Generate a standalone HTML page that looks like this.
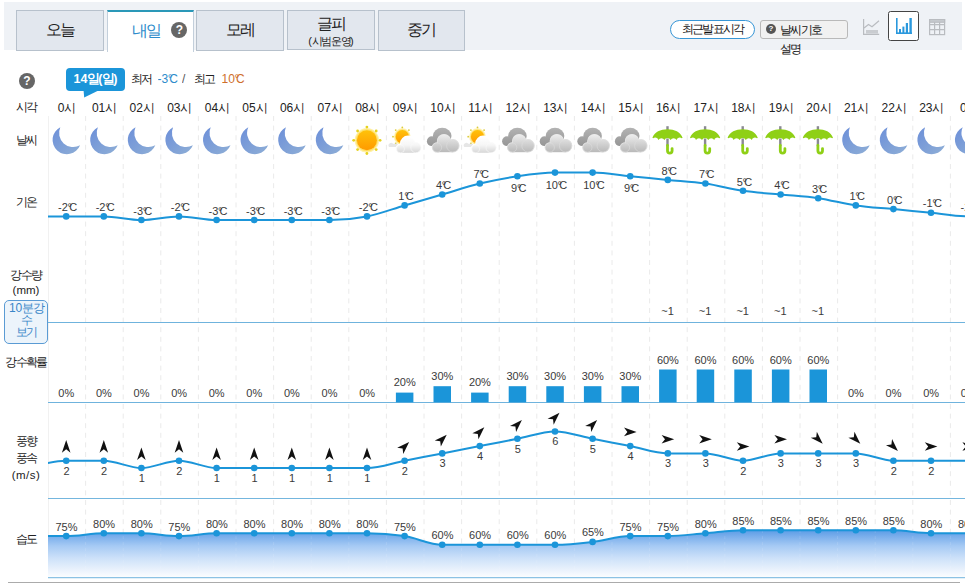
<!DOCTYPE html>
<html lang="ko">
<head>
<meta charset="utf-8">
<title>동네예보 - 내일</title>
<style>
html,body{margin:0;padding:0;background:#fff;}
body{width:965px;height:583px;overflow:hidden;position:relative;font-family:"Liberation Sans",sans-serif;color:#333;}
#wrap{position:absolute;left:0;top:0;width:965px;height:583px;overflow:hidden;}
.hdr{position:absolute;left:4px;top:2px;width:958px;height:47.5px;background:#eff2f6;}
.tab{position:absolute;top:10px;height:39px;width:86px;border:1px solid #b7c1cc;background:#e2e7ee;color:#222;font-size:16px;text-align:center;line-height:38px;white-space:nowrap;overflow:hidden;}
.tab.on{background:#fff;border:1px solid #c3cfdb;border-top:2.5px solid #2a98b8;border-bottom:none;height:40px;color:#2e8ccb;line-height:37px;}
.tab .sm{display:block;font-size:11px;line-height:12px;margin-top:3px;color:#222;}
.tab.two{line-height:17px;padding-top:4px;height:34px !important;}
.q{display:inline-block;width:16px;height:16px;border-radius:8px;background:#666;color:#fff;font-size:12px;font-weight:bold;line-height:16px;text-align:center;vertical-align:middle;}
.pill{position:absolute;left:670px;top:20px;width:83.4px;height:16.6px;border:1.3px solid #3796d6;border-radius:10px;background:#fff;font-size:12px;line-height:17px;text-align:center;color:#111;white-space:nowrap;overflow:hidden;}
.sym{position:absolute;left:760px;top:20px;width:86px;height:16.5px;border:1px solid #b9b9b9;border-radius:3px;background:#f1f1f1;}
.symt{position:absolute;left:780px;top:21px;width:50px;font-size:12px;line-height:19px;color:#111;white-space:normal;word-break:keep-all;}
.q2{position:absolute;left:766px;top:24px;width:10px;height:10px;border-radius:5px;background:#555;color:#fff;font-size:8px;font-weight:bold;line-height:10px;text-align:center;}
.vbox{position:absolute;left:888px;top:11px;width:29px;height:28px;border:1px solid #444;border-radius:2.5px;background:#fff;}
.badge{position:absolute;left:66px;top:68px;width:59px;height:22.5px;border-radius:4px;background:#1b95d9;color:#fff;font-weight:bold;font-size:12.5px;line-height:22px;text-align:center;white-space:nowrap;overflow:hidden;}
.mm{position:absolute;top:71px;font-size:12px;line-height:16px;white-space:nowrap;color:#222;overflow:hidden;}
.mm i{font-style:normal;margin-right:-3.4px;margin-left:-0.4px;}
.mm.t{letter-spacing:0;}
.rl{position:absolute;left:0;width:52px;text-align:center;font-size:12px;line-height:16px;color:#222;white-space:nowrap;overflow:hidden;}
.btn{position:absolute;left:4px;top:299.5px;width:42px;height:42px;border:1px solid #5a9bd4;border-radius:5px;background:#ecf4fb;color:#3a86c8;font-size:12px;line-height:12.4px;text-align:center;overflow:hidden;padding-top:1px;height:41px;}
.n{position:absolute;height:14px;line-height:14px;font-size:11px;text-align:center;color:#3a3a3a;white-space:nowrap;overflow:hidden;}
.n.hr{font-size:12px;color:#222;}
.tc i{font-style:normal;margin-right:-2.8px;margin-left:-0.3px;}
b{display:inline-block;width:0.866em;text-align:center;font-weight:inherit;white-space:nowrap;}
svg{position:absolute;left:0;top:0;}
.bl{position:absolute;left:8px;top:581.7px;width:952px;height:1.3px;background:#ababab;}
</style>
</head>
<body>
<div id="wrap">
<div class="hdr"></div>
<div class="tab" style="left:16px"><b>오</b><b>늘</b></div>
<div class="tab on" style="left:106.5px;width:66px;padding-left:19px"><b>내</b><b>일</b><span class="q" style="margin:-3px 0 0 12px">?</span></div>
<div class="tab" style="left:196px"><b>모</b><b>레</b></div>
<div class="tab two" style="left:287px;height:38px"><b>글</b><b>피</b><span class="sm">(<b>시</b><b>범</b><b>운</b><b>영</b>)</span></div>
<div class="tab" style="left:377.5px;width:85.5px"><b>중</b><b>기</b></div>

<div class="pill"><b>최</b><b>근</b><b>발</b><b>표</b><b>시</b><b>각</b></div>
<div class="sym"></div><span class="q2">?</span>
<div class="symt"><b>날</b><b>씨</b><b>기</b><b>호</b> <b>설</b><b>명</b></div>

<div class="vbox"></div>
<svg width="965" height="60" viewBox="0 0 965 60">
<g fill="none" stroke="#b9bcc0" stroke-width="1.2">
<path d="M863.6,19v15.4h15.6"/><path d="M864,28l4.5,-3.5l3.5,2.2l7,-6"/>
<rect x="866" y="30" width="12" height="3.6" fill="#c9ccd0" stroke="none"/>
</g>
<g fill="#2a98dd"><rect x="896" y="18" width="1.6" height="16"/><rect x="896" y="32.4" width="16" height="1.6"/><rect x="899" y="29" width="2" height="4"/><rect x="902.4" y="26.6" width="2" height="6.4"/><rect x="905.8" y="23" width="2.2" height="10"/><rect x="909.4" y="18" width="2.4" height="15"/></g>
<g fill="none" stroke="#b9bcc0" stroke-width="1.2"><rect x="929.6" y="19.6" width="15" height="15"/><path d="M929.6,24.6h15M929.6,29.6h15M934.6,22v12.6M939.6,22v12.6"/><rect x="929.6" y="19.6" width="15" height="2.6" fill="#c9ccd0"/></g>
</svg>

<span class="q" style="position:absolute;left:19px;top:73px">?</span>
<div class="badge">14<b>일</b>(<b>일</b>)</div>
<svg width="965" height="583" viewBox="0 0 965 583" style="pointer-events:none"><path d="M83.5,89.5L84.2,97.5L100.5,89.5Z" fill="#1b95d9"/></svg>
<span class="mm" style="left:131px;width:24px"><b>최</b><b>저</b></span>
<span class="mm t" style="left:157.5px;width:24px;color:#2e8ccb">-3<i>°</i>C</span>
<span class="mm" style="left:182px;width:8px;color:#555">/</span>
<span class="mm" style="left:193.5px;width:24px"><b>최</b><b>고</b></span>
<span class="mm t" style="left:221.5px;width:26px;color:#cf6f2b">10<i>°</i>C</span>

<div class="rl" style="top:99px"><b>시</b><b>각</b></div>
<div class="rl" style="top:132px"><b>날</b><b>씨</b></div>
<div class="rl" style="top:194px"><b>기</b><b>온</b></div>
<div class="rl" style="top:267px"><b>강</b><b>수</b><b>량</b></div>
<div class="rl" style="top:282px;font-size:11.5px">(mm)</div>
<div class="btn">10<b>분</b><b>강</b><br><b>수</b><br><b>보</b><b>기</b></div>
<div class="rl" style="top:354px"><b>강</b><b>수</b><b>확</b><b>률</b></div>
<div class="rl" style="top:433px"><b>풍</b><b>향</b></div>
<div class="rl" style="top:450px"><b>풍</b><b>속</b></div>
<div class="rl" style="top:466.5px;letter-spacing:0.5px;font-size:11.5px">(m/s)</div>
<div class="rl" style="top:530.5px"><b>습</b><b>도</b></div>

<svg width="965" height="583" viewBox="0 0 965 583">
<defs>
<clipPath id="clipc"><rect x="48" y="95" width="917" height="488"/></clipPath>
<linearGradient id="gmoon" x1="0" y1="0" x2="1" y2="1"><stop offset="0" stop-color="#6c8fd9"/><stop offset="1" stop-color="#8fafd6"/></linearGradient>
<linearGradient id="gsun" x1="0" y1="0" x2="0" y2="1"><stop offset="0" stop-color="#ffc20a"/><stop offset="1" stop-color="#ff9a00"/></linearGradient>
<linearGradient id="ghum" gradientUnits="userSpaceOnUse" x1="0" y1="530" x2="0" y2="577"><stop offset="0" stop-color="#5a9ce6"/><stop offset="0.15" stop-color="#7db0ec"/><stop offset="0.34" stop-color="#a6caf4"/><stop offset="0.6" stop-color="#cde1f9"/><stop offset="0.85" stop-color="#eaf2fc"/><stop offset="1" stop-color="#fbfdff"/></linearGradient>
<linearGradient id="gcl" x1="0" y1="0" x2="0" y2="1"><stop offset="0" stop-color="#e6e6e6"/><stop offset="1" stop-color="#b4b4b4"/></linearGradient>
<linearGradient id="gcd" x1="0" y1="0" x2="0" y2="1"><stop offset="0" stop-color="#a9a9a9"/><stop offset="1" stop-color="#8f8f8f"/></linearGradient>
<linearGradient id="gcw" x1="0" y1="0" x2="0" y2="1"><stop offset="0" stop-color="#ffffff"/><stop offset="1" stop-color="#dcdcdc"/></linearGradient>
<linearGradient id="gcwU" gradientUnits="userSpaceOnUse" x1="0" y1="-3" x2="0" y2="13"><stop offset="0" stop-color="#ffffff"/><stop offset="0.5" stop-color="#f6f6f6"/><stop offset="1" stop-color="#d6d6d6"/></linearGradient>
<linearGradient id="gclU" gradientUnits="userSpaceOnUse" x1="0" y1="-5" x2="0" y2="12.5"><stop offset="0" stop-color="#ececec"/><stop offset="1" stop-color="#b8b8b8"/></linearGradient>
<linearGradient id="gcdU" gradientUnits="userSpaceOnUse" x1="0" y1="-14" x2="0" y2="7"><stop offset="0" stop-color="#b6b6b6"/><stop offset="1" stop-color="#949494"/></linearGradient>
<linearGradient id="gbar" x1="0" y1="0" x2="0" y2="1"><stop offset="0" stop-color="#1f9be0"/><stop offset="1" stop-color="#4db4ea"/></linearGradient>
<g id="moon"><path d="M-6.8,-12.8A14.3,14.3 0 1 0 13,5.3A14.13,14.13 0 0 1 -6.8,-12.8Z" fill="url(#gmoon)"/></g>
<g id="sun"><circle r="12.2" fill="#fff0a8"/><circle r="11" fill="#ffe066"/><circle r="10" fill="url(#gsun)"/>
<g fill="#e6d21e"><circle cx="0" cy="-13.2" r="1.4"/><circle cx="9.3" cy="-9.3" r="1.4"/><circle cx="13.2" cy="0" r="1.4"/><circle cx="9.3" cy="9.3" r="1.4"/><circle cx="0" cy="13.2" r="1.4"/><circle cx="-9.3" cy="9.3" r="1.4"/><circle cx="-13.2" cy="0" r="1.4"/><circle cx="-9.3" cy="-9.3" r="1.4"/></g></g>
<g id="psun">
<g transform="translate(-3.2,-3.3)"><circle r="8.4" fill="#fff2b0"/><circle r="7.4" fill="#ffe270"/><circle r="6.6" fill="url(#gsun)"/>
<g fill="#dccb3a"><circle cx="0" cy="-9.3" r="0.9"/><circle cx="6.6" cy="-6.6" r="0.9"/><circle cx="-6.6" cy="-6.6" r="0.9"/><circle cx="-9.3" cy="0" r="0.9"/><circle cx="-6.6" cy="6.6" r="0.9"/></g></g>
<path d="M-16.3,7h8.5v-3.3h-4.6a2.1,2.1 0 0 0 -3.9,3.3z" fill="#e6e6e6"/>
<g fill="#fff" stroke="#fff" stroke-width="2"><circle cx="2.5" cy="3.6" r="7"/><circle cx="10.4" cy="7.6" r="5.1"/><circle cx="-5" cy="8.8" r="4"/><rect x="-5" y="7" width="15.4" height="5.8"/></g>
<g fill="url(#gcwU)"><circle cx="2.5" cy="3.6" r="7"/><rect x="-5" y="7" width="15.4" height="5.8"/><circle cx="10.4" cy="7.6" r="5.1" stroke="#fafafa" stroke-width="0.6"/><circle cx="-5" cy="8.8" r="4" stroke="#fafafa" stroke-width="0.6"/></g>
</g>
<g id="cloud">
<g fill="url(#gcdU)"><ellipse cx="-0.6" cy="-4.1" rx="9.3" ry="8.1"/><circle cx="-11" cy="1.2" r="4.9"/><rect x="-11" y="-2" width="16" height="8.1"/></g>
<g fill="#e9e9e9" stroke="#e9e9e9" stroke-width="1.2"><circle cx="1.2" cy="1.2" r="6.6"/><circle cx="10" cy="5.8" r="6.2"/><circle cx="-5.8" cy="7.5" r="4.6"/></g>
<g fill="url(#gclU)"><circle cx="1.2" cy="1.2" r="6.6"/><rect x="-5.8" y="6" width="15.8" height="6.2"/><circle cx="10" cy="5.8" r="6.2" stroke="#dedede" stroke-width="0.6"/><circle cx="-5.8" cy="7.5" r="4.6" stroke="#dedede" stroke-width="0.6"/></g>
</g>
<g id="umb">
<rect x="-1.2" y="-13.8" width="2.4" height="4" fill="#8a8a92"/>
<rect x="-1.2" y="-1.5" width="2.4" height="7.5" fill="#8a8a92"/>
<path d="M0,5.5v5.3a2.3,2.3 0 0 0 4.6,0v-2.2" fill="none" stroke="#8fd016" stroke-width="2.8" stroke-linecap="round"/>
<path d="M-15.1,-2.2C-13,-8 -7,-10.7 0,-10.7S13,-8 15.1,-2.2l-0.8,0.5a3.2,3.2 0 0 0 -5.2,1.7a3.4,3.4 0 0 0 -6,0a3.4,3.4 0 0 0 -6.2,0a3.4,3.4 0 0 0 -6,0a3.2,3.2 0 0 0 -5.2,-1.7z" fill="#8fd016"/>
</g>
<g id="arr"><path d="M0,-6.4L4.3,6.2L0,2.8L-4.3,6.2Z" fill="#111"/></g>
</defs>
<g stroke="#eaeaea" stroke-width="1" stroke-dasharray="5,4.6" fill="none">
<line x1="85.6" y1="116" x2="85.6" y2="578"/>
<line x1="123.2" y1="116" x2="123.2" y2="578"/>
<line x1="160.8" y1="116" x2="160.8" y2="578"/>
<line x1="198.4" y1="116" x2="198.4" y2="578"/>
<line x1="236.0" y1="116" x2="236.0" y2="578"/>
<line x1="273.6" y1="116" x2="273.6" y2="578"/>
<line x1="311.2" y1="116" x2="311.2" y2="578"/>
<line x1="348.8" y1="116" x2="348.8" y2="578"/>
<line x1="386.4" y1="116" x2="386.4" y2="578"/>
<line x1="424.0" y1="116" x2="424.0" y2="578"/>
<line x1="461.6" y1="116" x2="461.6" y2="578"/>
<line x1="499.2" y1="116" x2="499.2" y2="578"/>
<line x1="536.8" y1="116" x2="536.8" y2="578"/>
<line x1="574.4" y1="116" x2="574.4" y2="578"/>
<line x1="612.0" y1="116" x2="612.0" y2="578"/>
<line x1="649.6" y1="116" x2="649.6" y2="578"/>
<line x1="687.2" y1="116" x2="687.2" y2="578"/>
<line x1="724.8" y1="116" x2="724.8" y2="578"/>
<line x1="762.4" y1="116" x2="762.4" y2="578"/>
<line x1="800.0" y1="116" x2="800.0" y2="578"/>
<line x1="837.6" y1="116" x2="837.6" y2="578"/>
<line x1="875.2" y1="116" x2="875.2" y2="578"/>
<line x1="912.8" y1="116" x2="912.8" y2="578"/>
<line x1="950.4" y1="116" x2="950.4" y2="578"/>
</g>
<line x1="48.5" y1="116" x2="48.5" y2="578" stroke="#f1f1f1" stroke-width="1"/>
<line x1="48" y1="322.5" x2="965" y2="322.5" stroke="#6fb3dd" stroke-width="1.2"/>
<line x1="48" y1="402.5" x2="965" y2="402.5" stroke="#6fb3dd" stroke-width="1.2"/>
<line x1="48" y1="498.5" x2="965" y2="498.5" stroke="#74b6de" stroke-width="1.2"/>
<line x1="48" y1="577.6" x2="965" y2="577.6" stroke="#8cc2e4" stroke-width="1.2"/>
<use href="#moon" x="67.1" y="140"/>
<use href="#moon" x="104.7" y="140"/>
<use href="#moon" x="142.3" y="140"/>
<use href="#moon" x="179.9" y="140"/>
<use href="#moon" x="217.5" y="140"/>
<use href="#moon" x="255.1" y="140"/>
<use href="#moon" x="292.7" y="140"/>
<use href="#moon" x="330.3" y="140"/>
<use href="#sun" x="366.9" y="140.3"/>
<use href="#psun" x="405.5" y="140"/>
<use href="#cloud" x="442.8" y="140"/>
<use href="#psun" x="480.7" y="140"/>
<use href="#cloud" x="518.0" y="140"/>
<use href="#cloud" x="555.6" y="140"/>
<use href="#cloud" x="593.2" y="140"/>
<use href="#cloud" x="630.8" y="140"/>
<use href="#umb" x="667.5" y="140"/>
<use href="#umb" x="705.1" y="140"/>
<use href="#umb" x="742.7" y="140"/>
<use href="#umb" x="780.3" y="140"/>
<use href="#umb" x="817.9" y="140"/>
<use href="#moon" x="856.7" y="140"/>
<use href="#moon" x="894.3" y="140"/>
<use href="#moon" x="931.9" y="140"/>
<use href="#moon" x="969.5" y="140"/>
<g clip-path="url(#clipc)">
<path d="M28.60,536.10C41.13,536.10 53.67,536.10 66.20,536.10C78.73,536.10 91.27,533.20 103.80,533.20C116.33,533.20 128.87,533.20 141.40,533.20C153.93,533.20 166.47,536.10 179.00,536.10C191.53,536.10 204.07,533.20 216.60,533.20C229.13,533.20 241.67,533.20 254.20,533.20C266.73,533.20 279.27,533.20 291.80,533.20C304.33,533.20 316.87,533.20 329.40,533.20C341.93,533.20 354.47,533.20 367.00,533.20C379.53,533.20 392.07,534.17 404.60,536.10C417.13,538.03 429.67,544.80 442.20,544.80C454.73,544.80 467.27,544.80 479.80,544.80C492.33,544.80 504.87,544.80 517.40,544.80C529.93,544.80 542.47,544.80 555.00,544.80C567.53,544.80 580.07,543.35 592.60,541.90C605.13,540.45 617.67,536.10 630.20,536.10C642.73,536.10 655.27,536.10 667.80,536.10C680.33,536.10 692.87,534.17 705.40,533.20C717.93,532.23 730.47,530.30 743.00,530.30C755.53,530.30 768.07,530.30 780.60,530.30C793.13,530.30 805.67,530.30 818.20,530.30C830.73,530.30 843.27,530.30 855.80,530.30C868.33,530.30 880.87,530.30 893.40,530.30C905.93,530.30 918.47,533.20 931.00,533.20C943.53,533.20 956.07,533.20 968.60,533.20C981.13,533.20 993.67,533.20 1006.20,533.20L1006.2,577L28.6,577Z" fill="url(#ghum)"/>
<g stroke="#ffffff" stroke-opacity="0.12" stroke-width="1" stroke-dasharray="3,3">
<line x1="85.6" y1="530" x2="85.6" y2="577"/>
<line x1="123.2" y1="530" x2="123.2" y2="577"/>
<line x1="160.8" y1="530" x2="160.8" y2="577"/>
<line x1="198.4" y1="530" x2="198.4" y2="577"/>
<line x1="236.0" y1="530" x2="236.0" y2="577"/>
<line x1="273.6" y1="530" x2="273.6" y2="577"/>
<line x1="311.2" y1="530" x2="311.2" y2="577"/>
<line x1="348.8" y1="530" x2="348.8" y2="577"/>
<line x1="386.4" y1="530" x2="386.4" y2="577"/>
<line x1="424.0" y1="530" x2="424.0" y2="577"/>
<line x1="461.6" y1="530" x2="461.6" y2="577"/>
<line x1="499.2" y1="530" x2="499.2" y2="577"/>
<line x1="536.8" y1="530" x2="536.8" y2="577"/>
<line x1="574.4" y1="530" x2="574.4" y2="577"/>
<line x1="612.0" y1="530" x2="612.0" y2="577"/>
<line x1="649.6" y1="530" x2="649.6" y2="577"/>
<line x1="687.2" y1="530" x2="687.2" y2="577"/>
<line x1="724.8" y1="530" x2="724.8" y2="577"/>
<line x1="762.4" y1="530" x2="762.4" y2="577"/>
<line x1="800.0" y1="530" x2="800.0" y2="577"/>
<line x1="837.6" y1="530" x2="837.6" y2="577"/>
<line x1="875.2" y1="530" x2="875.2" y2="577"/>
<line x1="912.8" y1="530" x2="912.8" y2="577"/>
<line x1="950.4" y1="530" x2="950.4" y2="577"/>
</g>
<path d="M28.60,536.10C41.13,536.10 53.67,536.10 66.20,536.10C78.73,536.10 91.27,533.20 103.80,533.20C116.33,533.20 128.87,533.20 141.40,533.20C153.93,533.20 166.47,536.10 179.00,536.10C191.53,536.10 204.07,533.20 216.60,533.20C229.13,533.20 241.67,533.20 254.20,533.20C266.73,533.20 279.27,533.20 291.80,533.20C304.33,533.20 316.87,533.20 329.40,533.20C341.93,533.20 354.47,533.20 367.00,533.20C379.53,533.20 392.07,534.17 404.60,536.10C417.13,538.03 429.67,544.80 442.20,544.80C454.73,544.80 467.27,544.80 479.80,544.80C492.33,544.80 504.87,544.80 517.40,544.80C529.93,544.80 542.47,544.80 555.00,544.80C567.53,544.80 580.07,543.35 592.60,541.90C605.13,540.45 617.67,536.10 630.20,536.10C642.73,536.10 655.27,536.10 667.80,536.10C680.33,536.10 692.87,534.17 705.40,533.20C717.93,532.23 730.47,530.30 743.00,530.30C755.53,530.30 768.07,530.30 780.60,530.30C793.13,530.30 805.67,530.30 818.20,530.30C830.73,530.30 843.27,530.30 855.80,530.30C868.33,530.30 880.87,530.30 893.40,530.30C905.93,530.30 918.47,533.20 931.00,533.20C943.53,533.20 956.07,533.20 968.60,533.20C981.13,533.20 993.67,533.20 1006.20,533.20" fill="none" stroke="#1b95d9" stroke-width="2"/>
<circle cx="66.2" cy="536.1" r="3.3" fill="#1b95d9"/>
<circle cx="103.8" cy="533.2" r="3.3" fill="#1b95d9"/>
<circle cx="141.4" cy="533.2" r="3.3" fill="#1b95d9"/>
<circle cx="179.0" cy="536.1" r="3.3" fill="#1b95d9"/>
<circle cx="216.6" cy="533.2" r="3.3" fill="#1b95d9"/>
<circle cx="254.2" cy="533.2" r="3.3" fill="#1b95d9"/>
<circle cx="291.8" cy="533.2" r="3.3" fill="#1b95d9"/>
<circle cx="329.4" cy="533.2" r="3.3" fill="#1b95d9"/>
<circle cx="367.0" cy="533.2" r="3.3" fill="#1b95d9"/>
<circle cx="404.6" cy="536.1" r="3.3" fill="#1b95d9"/>
<circle cx="442.2" cy="544.8" r="3.3" fill="#1b95d9"/>
<circle cx="479.8" cy="544.8" r="3.3" fill="#1b95d9"/>
<circle cx="517.4" cy="544.8" r="3.3" fill="#1b95d9"/>
<circle cx="555.0" cy="544.8" r="3.3" fill="#1b95d9"/>
<circle cx="592.6" cy="541.9" r="3.3" fill="#1b95d9"/>
<circle cx="630.2" cy="536.1" r="3.3" fill="#1b95d9"/>
<circle cx="667.8" cy="536.1" r="3.3" fill="#1b95d9"/>
<circle cx="705.4" cy="533.2" r="3.3" fill="#1b95d9"/>
<circle cx="743.0" cy="530.3" r="3.3" fill="#1b95d9"/>
<circle cx="780.6" cy="530.3" r="3.3" fill="#1b95d9"/>
<circle cx="818.2" cy="530.3" r="3.3" fill="#1b95d9"/>
<circle cx="855.8" cy="530.3" r="3.3" fill="#1b95d9"/>
<circle cx="893.4" cy="530.3" r="3.3" fill="#1b95d9"/>
<circle cx="931.0" cy="533.2" r="3.3" fill="#1b95d9"/>
<circle cx="968.6" cy="533.2" r="3.3" fill="#1b95d9"/>
<path d="M28.60,216.40C41.13,216.40 53.67,216.40 66.20,216.40C78.73,216.40 91.27,216.40 103.80,216.40C116.33,216.40 128.87,220.05 141.40,220.05C153.93,220.05 166.47,216.40 179.00,216.40C191.53,216.40 204.07,220.05 216.60,220.05C229.13,220.05 241.67,220.05 254.20,220.05C266.73,220.05 279.27,220.05 291.80,220.05C304.33,220.05 316.87,220.05 329.40,220.05C341.93,220.05 354.47,218.83 367.00,216.40C379.53,213.97 392.07,209.10 404.60,205.45C417.13,201.80 429.67,198.15 442.20,194.50C454.73,190.85 467.27,186.59 479.80,183.55C492.33,180.51 504.87,178.07 517.40,176.25C529.93,174.43 542.47,172.60 555.00,172.60C567.53,172.60 580.07,172.60 592.60,172.60C605.13,172.60 617.67,175.03 630.20,176.25C642.73,177.47 655.27,178.68 667.80,179.90C680.33,181.12 692.87,181.72 705.40,183.55C717.93,185.37 730.47,189.02 743.00,190.85C755.53,192.68 768.07,193.28 780.60,194.50C793.13,195.72 805.67,196.33 818.20,198.15C830.73,199.97 843.27,203.62 855.80,205.45C868.33,207.27 880.87,207.88 893.40,209.10C905.93,210.32 918.47,211.53 931.00,212.75C943.53,213.97 956.07,216.40 968.60,216.40C981.13,216.40 993.67,216.40 1006.20,216.40" fill="none" stroke="#1b95d9" stroke-width="2"/>
<circle cx="66.2" cy="216.4" r="3.3" fill="#1b95d9"/>
<circle cx="103.8" cy="216.4" r="3.3" fill="#1b95d9"/>
<circle cx="141.4" cy="220.0" r="3.3" fill="#1b95d9"/>
<circle cx="179.0" cy="216.4" r="3.3" fill="#1b95d9"/>
<circle cx="216.6" cy="220.0" r="3.3" fill="#1b95d9"/>
<circle cx="254.2" cy="220.0" r="3.3" fill="#1b95d9"/>
<circle cx="291.8" cy="220.0" r="3.3" fill="#1b95d9"/>
<circle cx="329.4" cy="220.0" r="3.3" fill="#1b95d9"/>
<circle cx="367.0" cy="216.4" r="3.3" fill="#1b95d9"/>
<circle cx="404.6" cy="205.4" r="3.3" fill="#1b95d9"/>
<circle cx="442.2" cy="194.5" r="3.3" fill="#1b95d9"/>
<circle cx="479.8" cy="183.5" r="3.3" fill="#1b95d9"/>
<circle cx="517.4" cy="176.2" r="3.3" fill="#1b95d9"/>
<circle cx="555.0" cy="172.6" r="3.3" fill="#1b95d9"/>
<circle cx="592.6" cy="172.6" r="3.3" fill="#1b95d9"/>
<circle cx="630.2" cy="176.2" r="3.3" fill="#1b95d9"/>
<circle cx="667.8" cy="179.9" r="3.3" fill="#1b95d9"/>
<circle cx="705.4" cy="183.5" r="3.3" fill="#1b95d9"/>
<circle cx="743.0" cy="190.8" r="3.3" fill="#1b95d9"/>
<circle cx="780.6" cy="194.5" r="3.3" fill="#1b95d9"/>
<circle cx="818.2" cy="198.2" r="3.3" fill="#1b95d9"/>
<circle cx="855.8" cy="205.4" r="3.3" fill="#1b95d9"/>
<circle cx="893.4" cy="209.1" r="3.3" fill="#1b95d9"/>
<circle cx="931.0" cy="212.8" r="3.3" fill="#1b95d9"/>
<circle cx="968.6" cy="216.4" r="3.3" fill="#1b95d9"/>
<path d="M28.60,468.00C41.13,464.35 53.67,460.70 66.20,460.70C78.73,460.70 91.27,460.70 103.80,460.70C116.33,460.70 128.87,468.00 141.40,468.00C153.93,468.00 166.47,460.70 179.00,460.70C191.53,460.70 204.07,468.00 216.60,468.00C229.13,468.00 241.67,468.00 254.20,468.00C266.73,468.00 279.27,468.00 291.80,468.00C304.33,468.00 316.87,468.00 329.40,468.00C341.93,468.00 354.47,468.00 367.00,468.00C379.53,468.00 392.07,463.13 404.60,460.70C417.13,458.27 429.67,455.83 442.20,453.40C454.73,450.97 467.27,448.53 479.80,446.10C492.33,443.67 504.87,441.23 517.40,438.80C529.93,436.37 542.47,431.50 555.00,431.50C567.53,431.50 580.07,436.37 592.60,438.80C605.13,441.23 617.67,443.67 630.20,446.10C642.73,448.53 655.27,453.40 667.80,453.40C680.33,453.40 692.87,453.40 705.40,453.40C717.93,453.40 730.47,460.70 743.00,460.70C755.53,460.70 768.07,453.40 780.60,453.40C793.13,453.40 805.67,453.40 818.20,453.40C830.73,453.40 843.27,453.40 855.80,453.40C868.33,453.40 880.87,460.70 893.40,460.70C905.93,460.70 918.47,460.70 931.00,460.70C943.53,460.70 956.07,460.70 968.60,460.70C981.13,460.70 993.67,460.70 1006.20,460.70" fill="none" stroke="#1b95d9" stroke-width="2"/>
<circle cx="66.2" cy="460.7" r="3.3" fill="#1b95d9"/>
<use href="#arr" transform="translate(66.2,446.5) rotate(0)"/>
<circle cx="103.8" cy="460.7" r="3.3" fill="#1b95d9"/>
<use href="#arr" transform="translate(103.8,446.5) rotate(0)"/>
<circle cx="141.4" cy="468.0" r="3.3" fill="#1b95d9"/>
<use href="#arr" transform="translate(141.4,453.8) rotate(0)"/>
<circle cx="179.0" cy="460.7" r="3.3" fill="#1b95d9"/>
<use href="#arr" transform="translate(179.0,446.5) rotate(0)"/>
<circle cx="216.6" cy="468.0" r="3.3" fill="#1b95d9"/>
<use href="#arr" transform="translate(216.6,453.8) rotate(0)"/>
<circle cx="254.2" cy="468.0" r="3.3" fill="#1b95d9"/>
<use href="#arr" transform="translate(254.2,453.8) rotate(0)"/>
<circle cx="291.8" cy="468.0" r="3.3" fill="#1b95d9"/>
<use href="#arr" transform="translate(291.8,453.8) rotate(0)"/>
<circle cx="329.4" cy="468.0" r="3.3" fill="#1b95d9"/>
<use href="#arr" transform="translate(329.4,453.8) rotate(0)"/>
<circle cx="367.0" cy="468.0" r="3.3" fill="#1b95d9"/>
<use href="#arr" transform="translate(367.0,453.8) rotate(0)"/>
<circle cx="404.6" cy="460.7" r="3.3" fill="#1b95d9"/>
<use href="#arr" transform="translate(404.6,446.5) rotate(45)"/>
<circle cx="442.2" cy="453.4" r="3.3" fill="#1b95d9"/>
<use href="#arr" transform="translate(442.2,439.2) rotate(45)"/>
<circle cx="479.8" cy="446.1" r="3.3" fill="#1b95d9"/>
<use href="#arr" transform="translate(479.8,431.9) rotate(45)"/>
<circle cx="517.4" cy="438.8" r="3.3" fill="#1b95d9"/>
<use href="#arr" transform="translate(517.4,424.6) rotate(45)"/>
<circle cx="555.0" cy="431.5" r="3.3" fill="#1b95d9"/>
<use href="#arr" transform="translate(555.0,417.3) rotate(45)"/>
<circle cx="592.6" cy="438.8" r="3.3" fill="#1b95d9"/>
<use href="#arr" transform="translate(592.6,424.6) rotate(45)"/>
<circle cx="630.2" cy="446.1" r="3.3" fill="#1b95d9"/>
<use href="#arr" transform="translate(630.2,431.9) rotate(90)"/>
<circle cx="667.8" cy="453.4" r="3.3" fill="#1b95d9"/>
<use href="#arr" transform="translate(667.8,439.2) rotate(90)"/>
<circle cx="705.4" cy="453.4" r="3.3" fill="#1b95d9"/>
<use href="#arr" transform="translate(705.4,439.2) rotate(90)"/>
<circle cx="743.0" cy="460.7" r="3.3" fill="#1b95d9"/>
<use href="#arr" transform="translate(743.0,446.5) rotate(90)"/>
<circle cx="780.6" cy="453.4" r="3.3" fill="#1b95d9"/>
<use href="#arr" transform="translate(780.6,439.2) rotate(90)"/>
<circle cx="818.2" cy="453.4" r="3.3" fill="#1b95d9"/>
<use href="#arr" transform="translate(818.2,439.2) rotate(135)"/>
<circle cx="855.8" cy="453.4" r="3.3" fill="#1b95d9"/>
<use href="#arr" transform="translate(855.8,439.2) rotate(135)"/>
<circle cx="893.4" cy="460.7" r="3.3" fill="#1b95d9"/>
<use href="#arr" transform="translate(893.4,446.5) rotate(135)"/>
<circle cx="931.0" cy="460.7" r="3.3" fill="#1b95d9"/>
<use href="#arr" transform="translate(931.0,446.5) rotate(90)"/>
<circle cx="968.6" cy="460.7" r="3.3" fill="#1b95d9"/>
<use href="#arr" transform="translate(968.6,446.5) rotate(90)"/>
<rect x="395.9" y="392.6" width="17.5" height="9.7" fill="#1b95d9"/>
<rect x="433.5" y="386.2" width="17.5" height="16.1" fill="#1b95d9"/>
<rect x="471.1" y="392.6" width="17.5" height="9.7" fill="#1b95d9"/>
<rect x="508.7" y="386.2" width="17.5" height="16.1" fill="#1b95d9"/>
<rect x="546.3" y="386.2" width="17.5" height="16.1" fill="#1b95d9"/>
<rect x="583.9" y="386.2" width="17.5" height="16.1" fill="#1b95d9"/>
<rect x="621.5" y="386.2" width="17.5" height="16.1" fill="#1b95d9"/>
<rect x="659.1" y="369.5" width="17.5" height="32.8" fill="#1b95d9"/>
<rect x="696.7" y="369.5" width="17.5" height="32.8" fill="#1b95d9"/>
<rect x="734.3" y="369.5" width="17.5" height="32.8" fill="#1b95d9"/>
<rect x="771.9" y="369.5" width="17.5" height="32.8" fill="#1b95d9"/>
<rect x="809.5" y="369.5" width="17.5" height="32.8" fill="#1b95d9"/>
</g>
</svg>
<span class="n hr" style="left:46.2px;top:100.6px;width:40px">0<b>시</b></span>
<span class="n hr" style="left:83.8px;top:100.6px;width:40px">01<b>시</b></span>
<span class="n hr" style="left:121.4px;top:100.6px;width:40px">02<b>시</b></span>
<span class="n hr" style="left:159.0px;top:100.6px;width:40px">03<b>시</b></span>
<span class="n hr" style="left:196.6px;top:100.6px;width:40px">04<b>시</b></span>
<span class="n hr" style="left:234.2px;top:100.6px;width:40px">05<b>시</b></span>
<span class="n hr" style="left:271.8px;top:100.6px;width:40px">06<b>시</b></span>
<span class="n hr" style="left:309.4px;top:100.6px;width:40px">07<b>시</b></span>
<span class="n hr" style="left:347.0px;top:100.6px;width:40px">08<b>시</b></span>
<span class="n hr" style="left:384.6px;top:100.6px;width:40px">09<b>시</b></span>
<span class="n hr" style="left:422.2px;top:100.6px;width:40px">10<b>시</b></span>
<span class="n hr" style="left:459.8px;top:100.6px;width:40px">11<b>시</b></span>
<span class="n hr" style="left:497.4px;top:100.6px;width:40px">12<b>시</b></span>
<span class="n hr" style="left:535.0px;top:100.6px;width:40px">13<b>시</b></span>
<span class="n hr" style="left:572.6px;top:100.6px;width:40px">14<b>시</b></span>
<span class="n hr" style="left:610.2px;top:100.6px;width:40px">15<b>시</b></span>
<span class="n hr" style="left:647.8px;top:100.6px;width:40px">16<b>시</b></span>
<span class="n hr" style="left:685.4px;top:100.6px;width:40px">17<b>시</b></span>
<span class="n hr" style="left:723.0px;top:100.6px;width:40px">18<b>시</b></span>
<span class="n hr" style="left:760.6px;top:100.6px;width:40px">19<b>시</b></span>
<span class="n hr" style="left:798.2px;top:100.6px;width:40px">20<b>시</b></span>
<span class="n hr" style="left:835.8px;top:100.6px;width:40px">21<b>시</b></span>
<span class="n hr" style="left:873.4px;top:100.6px;width:40px">22<b>시</b></span>
<span class="n hr" style="left:911.0px;top:100.6px;width:40px">23<b>시</b></span>
<span class="n hr" style="left:948.6px;top:100.6px;width:40px">0<b>시</b></span>
<span class="n tc" style="left:47.6px;top:200.1px;width:40px">-2<i>°</i>C</span>
<span class="n tc" style="left:85.2px;top:200.1px;width:40px">-2<i>°</i>C</span>
<span class="n tc" style="left:122.8px;top:203.7px;width:40px">-3<i>°</i>C</span>
<span class="n tc" style="left:160.4px;top:200.1px;width:40px">-2<i>°</i>C</span>
<span class="n tc" style="left:198.0px;top:203.7px;width:40px">-3<i>°</i>C</span>
<span class="n tc" style="left:235.6px;top:203.7px;width:40px">-3<i>°</i>C</span>
<span class="n tc" style="left:273.2px;top:203.7px;width:40px">-3<i>°</i>C</span>
<span class="n tc" style="left:310.8px;top:203.7px;width:40px">-3<i>°</i>C</span>
<span class="n tc" style="left:348.4px;top:200.1px;width:40px">-2<i>°</i>C</span>
<span class="n tc" style="left:386.0px;top:189.1px;width:40px">1<i>°</i>C</span>
<span class="n tc" style="left:423.6px;top:178.2px;width:40px">4<i>°</i>C</span>
<span class="n tc" style="left:461.2px;top:167.2px;width:40px">7<i>°</i>C</span>
<span class="n tc" style="left:498.8px;top:181.2px;width:40px">9<i>°</i>C</span>
<span class="n tc" style="left:536.4px;top:177.6px;width:40px">10<i>°</i>C</span>
<span class="n tc" style="left:574.0px;top:177.6px;width:40px">10<i>°</i>C</span>
<span class="n tc" style="left:611.6px;top:181.2px;width:40px">9<i>°</i>C</span>
<span class="n tc" style="left:649.2px;top:163.6px;width:40px">8<i>°</i>C</span>
<span class="n tc" style="left:686.8px;top:167.2px;width:40px">7<i>°</i>C</span>
<span class="n tc" style="left:724.4px;top:174.5px;width:40px">5<i>°</i>C</span>
<span class="n tc" style="left:762.0px;top:178.2px;width:40px">4<i>°</i>C</span>
<span class="n tc" style="left:799.6px;top:181.8px;width:40px">3<i>°</i>C</span>
<span class="n tc" style="left:837.2px;top:189.1px;width:40px">1<i>°</i>C</span>
<span class="n tc" style="left:874.8px;top:192.8px;width:40px">0<i>°</i>C</span>
<span class="n tc" style="left:912.4px;top:196.4px;width:40px">-1<i>°</i>C</span>
<span class="n tc" style="left:950.0px;top:200.1px;width:40px">-2<i>°</i>C</span>
<span class="n" style="left:647.5px;top:304.2px;width:40px">~1</span>
<span class="n" style="left:685.1px;top:304.2px;width:40px">~1</span>
<span class="n" style="left:722.7px;top:304.2px;width:40px">~1</span>
<span class="n" style="left:760.3px;top:304.2px;width:40px">~1</span>
<span class="n" style="left:797.9px;top:304.2px;width:40px">~1</span>
<span class="n" style="left:46.3px;top:385.7px;width:40px">0%</span>
<span class="n" style="left:83.9px;top:385.7px;width:40px">0%</span>
<span class="n" style="left:121.5px;top:385.7px;width:40px">0%</span>
<span class="n" style="left:159.1px;top:385.7px;width:40px">0%</span>
<span class="n" style="left:196.7px;top:385.7px;width:40px">0%</span>
<span class="n" style="left:234.3px;top:385.7px;width:40px">0%</span>
<span class="n" style="left:271.9px;top:385.7px;width:40px">0%</span>
<span class="n" style="left:309.5px;top:385.7px;width:40px">0%</span>
<span class="n" style="left:347.1px;top:385.7px;width:40px">0%</span>
<span class="n" style="left:384.7px;top:374.8px;width:40px">20%</span>
<span class="n" style="left:422.3px;top:369.3px;width:40px">30%</span>
<span class="n" style="left:459.9px;top:374.8px;width:40px">20%</span>
<span class="n" style="left:497.5px;top:369.3px;width:40px">30%</span>
<span class="n" style="left:535.1px;top:369.3px;width:40px">30%</span>
<span class="n" style="left:572.7px;top:369.3px;width:40px">30%</span>
<span class="n" style="left:610.3px;top:369.3px;width:40px">30%</span>
<span class="n" style="left:647.9px;top:353.0px;width:40px">60%</span>
<span class="n" style="left:685.5px;top:353.0px;width:40px">60%</span>
<span class="n" style="left:723.1px;top:353.0px;width:40px">60%</span>
<span class="n" style="left:760.7px;top:353.0px;width:40px">60%</span>
<span class="n" style="left:798.3px;top:353.0px;width:40px">60%</span>
<span class="n" style="left:835.9px;top:385.7px;width:40px">0%</span>
<span class="n" style="left:873.5px;top:385.7px;width:40px">0%</span>
<span class="n" style="left:911.1px;top:385.7px;width:40px">0%</span>
<span class="n" style="left:948.7px;top:385.7px;width:40px">0%</span>
<span class="n" style="left:46.5px;top:463.5px;width:40px">2</span>
<span class="n" style="left:84.1px;top:463.5px;width:40px">2</span>
<span class="n" style="left:121.7px;top:470.8px;width:40px">1</span>
<span class="n" style="left:159.3px;top:463.5px;width:40px">2</span>
<span class="n" style="left:196.9px;top:470.8px;width:40px">1</span>
<span class="n" style="left:234.5px;top:470.8px;width:40px">1</span>
<span class="n" style="left:272.1px;top:470.8px;width:40px">1</span>
<span class="n" style="left:309.7px;top:470.8px;width:40px">1</span>
<span class="n" style="left:347.3px;top:470.8px;width:40px">1</span>
<span class="n" style="left:384.9px;top:463.5px;width:40px">2</span>
<span class="n" style="left:422.5px;top:456.2px;width:40px">3</span>
<span class="n" style="left:460.1px;top:448.9px;width:40px">4</span>
<span class="n" style="left:497.7px;top:441.6px;width:40px">5</span>
<span class="n" style="left:535.3px;top:434.3px;width:40px">6</span>
<span class="n" style="left:572.9px;top:441.6px;width:40px">5</span>
<span class="n" style="left:610.5px;top:448.9px;width:40px">4</span>
<span class="n" style="left:648.1px;top:456.2px;width:40px">3</span>
<span class="n" style="left:685.7px;top:456.2px;width:40px">3</span>
<span class="n" style="left:723.3px;top:463.5px;width:40px">2</span>
<span class="n" style="left:760.9px;top:456.2px;width:40px">3</span>
<span class="n" style="left:798.5px;top:456.2px;width:40px">3</span>
<span class="n" style="left:836.1px;top:456.2px;width:40px">3</span>
<span class="n" style="left:873.7px;top:463.5px;width:40px">2</span>
<span class="n" style="left:911.3px;top:463.5px;width:40px">2</span>
<span class="n" style="left:948.9px;top:463.5px;width:40px">2</span>
<span class="n" style="left:46.5px;top:519.5px;width:40px">75%</span>
<span class="n" style="left:84.1px;top:516.6px;width:40px">80%</span>
<span class="n" style="left:121.7px;top:516.6px;width:40px">80%</span>
<span class="n" style="left:159.3px;top:519.5px;width:40px">75%</span>
<span class="n" style="left:196.9px;top:516.6px;width:40px">80%</span>
<span class="n" style="left:234.5px;top:516.6px;width:40px">80%</span>
<span class="n" style="left:272.1px;top:516.6px;width:40px">80%</span>
<span class="n" style="left:309.7px;top:516.6px;width:40px">80%</span>
<span class="n" style="left:347.3px;top:516.6px;width:40px">80%</span>
<span class="n" style="left:384.9px;top:519.5px;width:40px">75%</span>
<span class="n" style="left:422.5px;top:528.2px;width:40px">60%</span>
<span class="n" style="left:460.1px;top:528.2px;width:40px">60%</span>
<span class="n" style="left:497.7px;top:528.2px;width:40px">60%</span>
<span class="n" style="left:535.3px;top:528.2px;width:40px">60%</span>
<span class="n" style="left:572.9px;top:525.3px;width:40px">65%</span>
<span class="n" style="left:610.5px;top:519.5px;width:40px">75%</span>
<span class="n" style="left:648.1px;top:519.5px;width:40px">75%</span>
<span class="n" style="left:685.7px;top:516.6px;width:40px">80%</span>
<span class="n" style="left:723.3px;top:513.7px;width:40px">85%</span>
<span class="n" style="left:760.9px;top:513.7px;width:40px">85%</span>
<span class="n" style="left:798.5px;top:513.7px;width:40px">85%</span>
<span class="n" style="left:836.1px;top:513.7px;width:40px">85%</span>
<span class="n" style="left:873.7px;top:513.7px;width:40px">85%</span>
<span class="n" style="left:911.3px;top:516.6px;width:40px">80%</span>
<span class="n" style="left:948.9px;top:516.6px;width:40px">80%</span>
<div class="bl"></div>
</div>
</body>
</html>
